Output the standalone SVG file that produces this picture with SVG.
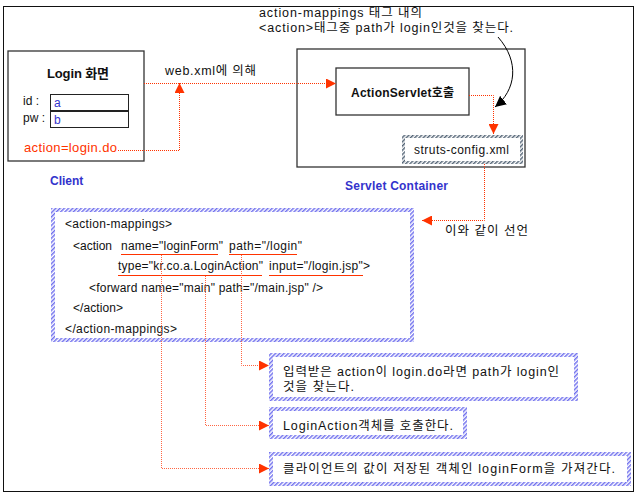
<svg xmlns="http://www.w3.org/2000/svg" width="637" height="498" viewBox="0 0 637 498">
<style>
text{font-family:"Liberation Sans","Noto Sans CJK KR",sans-serif;font-size:12px;fill:#111}
.k{font-size:12.5px}
.b{font-weight:bold}
.blue{fill:#3333cc}
.red{fill:#ff3300}
.box{fill:#fff;stroke:#333;stroke-width:1.3}
.inp{fill:#fff;stroke:#222;stroke-width:1}
.dot{fill:none;stroke:#ff3300;stroke-width:1;stroke-dasharray:1 1}
.vl{fill:none;stroke:#ff6644;stroke-width:1;stroke-dasharray:1 1}
.ul{stroke:#ff3300;stroke-width:1.2}
.hb{fill:#fff;stroke:url(#hatchB);stroke-width:4}
.hg{fill:#fff;stroke:url(#hatchG);stroke-width:3}
</style>
<defs>
<pattern id="hatchB" width="3" height="3" patternUnits="userSpaceOnUse" patternTransform="rotate(45)">
<rect width="3" height="3" fill="#fff"/><rect width="1.5" height="3" fill="#7070ee"/>
</pattern>
<pattern id="hatchG" width="3" height="3" patternUnits="userSpaceOnUse" patternTransform="rotate(45)">
<rect width="3" height="3" fill="#fff"/><rect width="1.5" height="3" fill="#556677"/>
</pattern>
<marker id="ar" viewBox="0 0 10 10" refX="10" refY="5" markerWidth="10" markerHeight="10" markerUnits="userSpaceOnUse" orient="auto">
<path d="M0,0 L10,5 L0,10 z" fill="#ff3300"/>
</marker>
<marker id="ak" viewBox="0 0 10 10" refX="10" refY="5" markerWidth="11" markerHeight="11" markerUnits="userSpaceOnUse" orient="auto">
<path d="M0,0 L10,5 L0,10 z" fill="#000"/>
</marker>
</defs>
<rect x="3.5" y="6.5" width="630" height="485" fill="#fff" stroke="#111" stroke-width="1"/>

<g id="annotation-top">
<text class="k" x="259" y="17" textLength="163">action-mappings 태그 내의</text>
<text class="k" x="259" y="32" textLength="254">&lt;action&gt;태그중 path가 login인것을 찾는다.</text>
</g>

<g id="client">
<rect class="box" x="8" y="51" width="136" height="110"/>
<text class="b" x="47" y="78" style="font-size:13px" textLength="62">Login 화면</text>
<text x="23" y="105">id :</text>
<text x="23" y="122">pw :</text>
<rect class="inp" x="50.5" y="94.5" width="78" height="16"/>
<rect class="inp" x="50.5" y="111.5" width="78" height="16"/>
<text class="blue" x="54" y="107">a</text>
<text class="blue" x="54" y="124">b</text>
<text class="red" x="24" y="152" style="font-size:13px" textLength="93">action=login.do</text>
<text class="b blue" x="50" y="185">Client</text>
</g>

<g id="servlet-container">
<rect class="box" x="297" y="49" width="228" height="118"/>
<text class="b blue" x="345" y="190" textLength="103">Servlet Container</text>
</g>
<g id="actionservlet">
<rect class="box" x="336" y="68" width="133" height="47"/>
<text class="b" x="351" y="97" textLength="103">ActionServlet호출</text>
</g>
<g id="struts-config">
<rect class="hg" x="403.5" y="136.5" width="118" height="26"/>
<text x="414" y="154" textLength="95">struts-config.xml</text>
</g>

<g id="label-web">
<text class="k" x="165" y="75" textLength="91">web.xml에 의해</text>
</g>
<g id="label-declare">
<text class="k" x="445" y="235" textLength="83">이와 같이 선언</text>
</g>

<g id="code">
<rect class="hb" x="53" y="210" width="359" height="130"/>
<text x="65" y="228" textLength="107">&lt;action-mappings&gt;</text>
<text x="73" y="250" textLength="39">&lt;action</text>
<text x="121" y="250" textLength="102">name="loginForm"</text>
<text x="229" y="250" textLength="73">path="/login"</text>
<text x="118" y="270" textLength="145">type="kr.co.a.LoginAction"</text>
<text x="269" y="270" textLength="101">input="/login.jsp"&gt;</text>
<text x="89" y="292" textLength="234">&lt;forward name="main" path="/main.jsp" /&gt;</text>
<text x="73" y="312" textLength="50">&lt;/action&gt;</text>
<text x="65" y="333" textLength="112">&lt;/action-mappings&gt;</text>
</g>

<g id="note1">
<rect class="hb" x="271" y="355" width="305" height="44"/>
<text class="k" x="283" y="376" textLength="276">입력받은 action이 login.do라면 path가 login인</text>
<text class="k" x="283" y="391" textLength="71">것을 찾는다.</text>
</g>
<g id="note2">
<rect class="hb" x="271" y="409" width="194" height="28"/>
<text class="k" x="283" y="430" textLength="170">LoginAction객체를 호출한다.</text>
</g>
<g id="note3">
<rect class="hb" x="271" y="454" width="358" height="30"/>
<text class="k" x="283" y="473" textLength="332">클라이언트의 값이 저장된 객체인 loginForm을 가져간다.</text>
</g>

<g id="connectors">
<polyline class="dot" points="118,150.5 179.5,150.5 179.5,83" marker-end="url(#ar)"/>
<line class="dot" x1="144" y1="83.5" x2="336" y2="83.5" marker-end="url(#ar)"/>
<polyline class="dot" points="469,95.5 493.5,95.5 493.5,134" marker-end="url(#ar)"/>
<polyline class="dot" points="484.5,164 484.5,220.5 422,220.5" marker-end="url(#ar)"/>
<path d="M498,37 C520,62 516,90 495,107" fill="none" stroke="#000" stroke-width="1" marker-end="url(#ak)"/>
<line class="ul" x1="121" y1="254.5" x2="218" y2="254.5"/>
<line class="ul" x1="229" y1="254.5" x2="297" y2="254.5"/>
<line class="ul" x1="118" y1="275.5" x2="262" y2="275.5"/>
<line class="ul" x1="269" y1="275.5" x2="363" y2="275.5"/>
<polyline class="vl" points="241.5,255 241.5,365.5 269,365.5" marker-end="url(#ar)"/>
<polyline class="vl" points="205.5,276 205.5,425.5 269,425.5" marker-end="url(#ar)"/>
<polyline class="vl" points="161.5,255 161.5,468.5 269,468.5" marker-end="url(#ar)"/>
</g>
</svg>
